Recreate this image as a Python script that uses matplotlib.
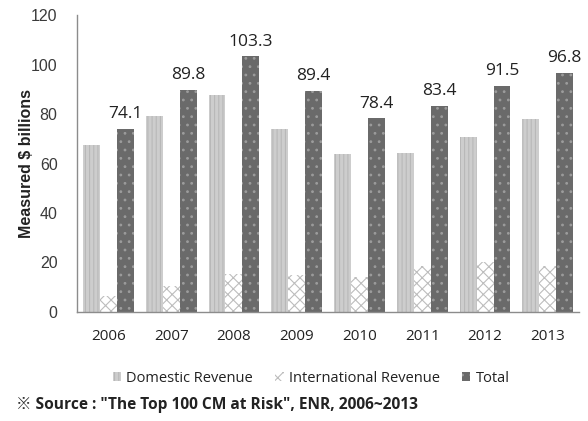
import matplotlib
matplotlib.use("Agg")
import matplotlib.pyplot as plt
import numpy as np

years = ["2006", "2007", "2008", "2009", "2010", "2011", "2012", "2013"]
domestic = [67.5, 79.3, 87.7, 74.0, 63.7, 64.1, 70.8, 77.9]
international = [6.5, 10.5, 15.4, 15.0, 14.3, 18.6, 20.2, 18.6]
total = [74.1, 89.8, 103.3, 89.4, 78.4, 83.4, 91.5, 96.8]
yticks = [0, 20, 40, 60, 80, 100, 120]

plt.rcParams['hatch.linewidth'] = 0.8

fig = plt.figure(figsize=(5.88, 4.21), dpi=100)
ax = fig.add_axes([0.131, 0.259, 0.854, 0.705])

x = np.arange(len(years))
w = 0.27
b1 = ax.bar(x - w, domestic, w, color='#cdcdcd', edgecolor='#b8b8b8', hatch='||||', linewidth=0, label='Domestic Revenue')
b2 = ax.bar(x, international, w, color='#ffffff', edgecolor='#bdbdbd', hatch='xxx', linewidth=0, label='International Revenue')
b3 = ax.bar(x + w, total, w, color='#6a6a6a', edgecolor='#9c9c9c', hatch='..', linewidth=0, label='Total')

for xi, t in zip(x, total):
    ax.text(xi + w, t + 2.6, f"{t}", ha='center', va='bottom', fontsize=12.5,
            family='Open Sans', color='#222222')

ax.set_xlim(-0.5, len(years) - 0.5)
ax.set_ylim(0, 120)
ax.set_yticks(yticks)
ax.set_yticklabels([str(v) for v in yticks], fontsize=11.5, family='Liberation Sans', color='#3a3a3a')
ax.set_xticks(x)
ax.set_xticklabels(years, fontsize=11, family='Open Sans', color='#222222')
ax.tick_params(axis='both', length=0)
ax.tick_params(axis='x', pad=12)
ax.tick_params(axis='y', pad=14)
for s in ['top', 'right']:
    ax.spines[s].set_visible(False)
for s in ['left', 'bottom']:
    ax.spines[s].set_color('#8c8c8c')
    ax.spines[s].set_linewidth(1.0)

ax.set_ylabel("Measured $ billions", fontsize=11.5, fontweight='bold', family='Liberation Sans', color='#222222')
ax.yaxis.set_label_coords(-0.086, 0.5)

leg = fig.legend(handles=[b1, b2, b3], loc='center', bbox_to_anchor=(0.529, 0.102), ncol=3, frameon=False,
                 prop={'family': 'Open Sans', 'size': 10.5}, handlelength=0.6, handleheight=0.6,
                 handletextpad=0.35, columnspacing=1.5)
for t in leg.get_texts():
    t.set_color('#222222')

fig.text(0.028, 0.038, '※ Source : "The Top 100 CM at Risk", ENR, 2006~2013', fontsize=11.2, fontweight='bold',
         family=['Open Sans', 'Noto Sans CJK SC', 'DejaVu Sans'], color='#222222', va='center')

fig.savefig("out.png", dpi=100)
